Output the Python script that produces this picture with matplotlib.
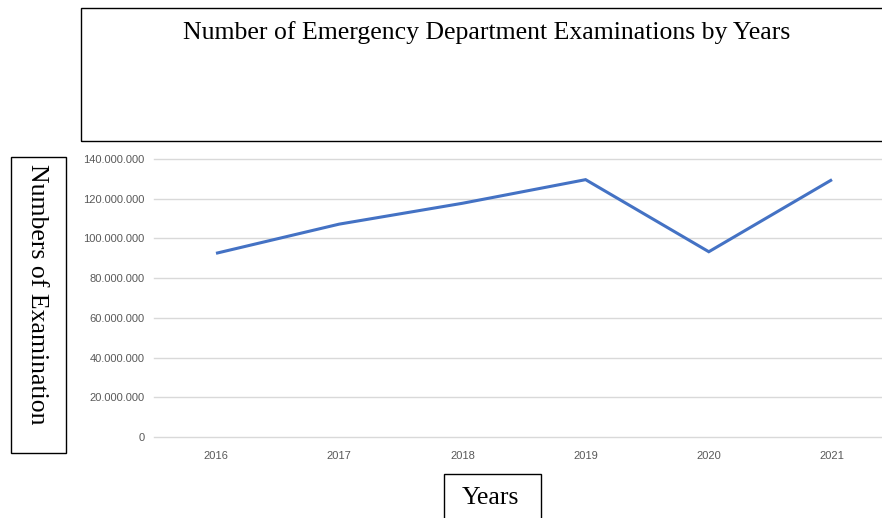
import matplotlib
matplotlib.use("Agg")
import matplotlib.pyplot as plt
from matplotlib.patches import Rectangle
from matplotlib.ticker import FuncFormatter

years = ["2016", "2017", "2018", "2019", "2020", "2021"]
examinations = [92_500_000, 107_200_000, 117_700_000, 129_600_000, 93_300_000, 129_600_000]
y_ticks = [0, 20_000_000, 40_000_000, 60_000_000, 80_000_000, 100_000_000, 120_000_000, 140_000_000]

W, H = 882, 518
fig = plt.figure(figsize=(W / 100, H / 100), dpi=100)

def fx(px):
    return px / W

def fy(py):
    return 1 - py / H

# plot area (pixel coords): x 154.4..893.6, y 159..437
left, right, top, bottom = 154.4, 893.6, 159, 437
ax = fig.add_axes([fx(left), fy(bottom), fx(right) - fx(left), fy(top) - fy(bottom)])
x = list(range(len(years)))
ax.plot(x, examinations, color="#4472C4", lw=2.2, solid_capstyle="butt", solid_joinstyle="miter", zorder=3)
ax.set_xlim(-0.5, len(years) - 0.5)
ax.set_ylim(0, 140_000_000)
ax.set_yticks(y_ticks)
ax.yaxis.set_major_formatter(FuncFormatter(lambda v, p: "0" if v == 0 else f"{int(v):,}".replace(",", ".")))
ax.set_xticks(x)
ax.set_xticklabels(years)
ax.grid(axis="y", color="#d9d9d9", lw=1)
for gl in ax.get_ygridlines():
    gl.set_clip_on(False)
ax.set_axisbelow(True)
for s in ax.spines.values():
    s.set_visible(False)
ax.tick_params(axis="both", length=0, labelsize=8, labelcolor="#595959")
ax.tick_params(axis="y", pad=7)
ax.tick_params(axis="x", pad=10)
for lab in ax.get_xticklabels() + ax.get_yticklabels():
    lab.set_fontfamily("Liberation Sans")

serif = "Liberation Serif"

# title box
fig.patches.append(Rectangle((fx(81), fy(141)), fx(900) - fx(81), fy(8) - fy(141),
                             transform=fig.transFigure, fill=False, ec="black", lw=1))
fig.text(fx(487), fy(33), "Number of Emergency Department Examinations by Years",
         ha="center", va="center", fontsize=18.5, family=serif)

# y label box
fig.patches.append(Rectangle((fx(11), fy(453)), fx(66) - fx(11), fy(157) - fy(453),
                             transform=fig.transFigure, fill=False, ec="black", lw=1))
fig.text(fx(37), fy(294), "Numbers of Examination", rotation=270,
         ha="center", va="center", fontsize=18.5, family=serif)

# x label box
fig.patches.append(Rectangle((fx(444), fy(530)), fx(541) - fx(444), fy(474) - fy(530),
                             transform=fig.transFigure, fill=False, ec="black", lw=1))
fig.text(fx(490), fy(498), "Years", ha="center", va="center", fontsize=18.5, family=serif)

fig.savefig("out.png", dpi=100)
